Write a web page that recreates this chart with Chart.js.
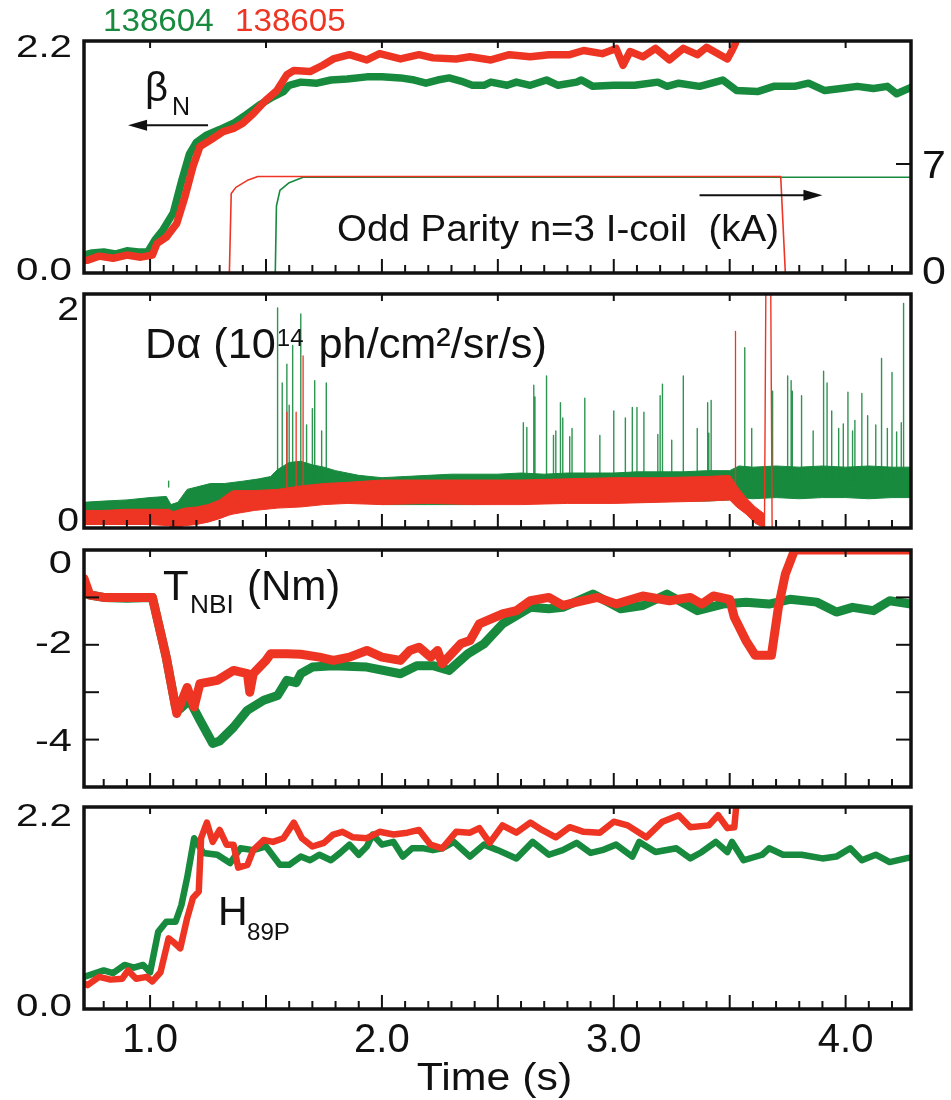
<!DOCTYPE html>
<html>
<head>
<meta charset="utf-8">
<script src="https://cdn.jsdelivr.net/npm/chart.js@4.4.1/dist/chart.umd.min.js"></script>
<style>
  body { margin: 0; background: #fff; width: 951px; height: 1100px; position: relative; overflow: hidden; }
  canvas { position: absolute; left: 0; top: 0; }
</style>
</head>
<body>
<canvas id="p1" width="951" height="1100"></canvas>
<canvas id="p2" width="951" height="1100"></canvas>
<canvas id="p3" width="951" height="1100"></canvas>
<canvas id="p4" width="951" height="1100"></canvas>
<script>
// shots
const shots = ['138604', '138605'];
const GREEN = '#178a3e', RED = '#ee3524';

// beta_N, [time s, value]
const betaN_138604 = [[0.715,0.17],[0.75,0.19],[0.80,0.20],[0.85,0.18],[0.90,0.21],[0.95,0.20],[0.99,0.20],[1.02,0.31],[1.056,0.41],[1.10,0.57],
  [1.137,0.88],[1.17,1.13],[1.20,1.24],[1.245,1.31],[1.30,1.36],[1.36,1.42],[1.42,1.51],[1.47,1.59],[1.53,1.67],[1.575,1.72],
  [1.60,1.78],[1.65,1.81],[1.72,1.80],[1.78,1.83],[1.85,1.84],[1.935,1.86],[2.0,1.86],[2.08,1.85],[2.14,1.83],[2.19,1.80],
  [2.24,1.83],[2.29,1.85],[2.34,1.82],[2.39,1.78],[2.44,1.78],[2.47,1.81],[2.54,1.78],[2.58,1.81],[2.64,1.78],[2.71,1.83],
  [2.76,1.78],[2.84,1.81],[2.86,1.83],[2.91,1.77],[3.0,1.78],[3.09,1.78],[3.19,1.81],[3.23,1.77],[3.28,1.80],[3.37,1.77],
  [3.47,1.83],[3.53,1.73],[3.62,1.72],[3.69,1.77],[3.78,1.77],[3.84,1.80],[3.91,1.73],[3.98,1.75],[4.05,1.77],[4.12,1.75],
  [4.18,1.77],[4.22,1.70],[4.282,1.76]];
const betaN_138605 = [[0.715,0.12],[0.73,0.12],[0.78,0.16],[0.84,0.14],[0.90,0.17],[0.96,0.15],[1.01,0.17],[1.03,0.28],[1.07,0.34],[1.115,0.47],
  [1.15,0.72],[1.185,1.01],[1.215,1.20],[1.26,1.26],[1.315,1.34],[1.36,1.37],[1.40,1.42],[1.445,1.51],[1.50,1.64],[1.547,1.73],
  [1.59,1.88],[1.62,1.92],[1.69,1.91],[1.745,1.97],[1.79,2.03],[1.86,2.07],[1.935,2.02],[1.99,2.08],[2.08,2.03],[2.16,2.07],
  [2.22,2.04],[2.32,2.03],[2.38,2.05],[2.47,2.02],[2.55,2.07],[2.64,2.05],[2.72,2.07],[2.81,2.07],[2.87,2.11],[2.95,2.08],
  [3.01,2.13],[3.04,1.97],[3.07,2.10],[3.125,2.05],[3.18,2.13],[3.24,2.02],[3.30,2.13],[3.36,2.07],[3.40,2.14],[3.44,2.09],
  [3.49,2.03],[3.51,2.11],[3.525,2.18],[3.53,2.4]];

// odd parity n=3 I-coil current (kA)
const coil_138604 = [[0.715,0],[1.54,0],[1.545,4.3],[1.56,5.3],[1.60,5.8],[1.66,6.15],[4.282,6.15]];
const coil_138605 = [[0.715,0],[1.342,0],[1.35,5.1],[1.37,5.5],[1.42,5.95],[1.465,6.2],[3.72,6.2],[3.74,0],[4.282,0]];

// D-alpha band envelopes [time, low, high] (1e14 ph/cm2/sr/s)
const dalpha_138604 = [[0.715,0.10,0.22],[0.8,0.10,0.23],[0.9,0.10,0.24],[1.0,0.12,0.26],[1.07,0.12,0.27],[1.09,0.05,0.20],[1.12,0.08,0.22],
  [1.16,0.12,0.33],[1.2,0.15,0.35],[1.26,0.18,0.38],[1.32,0.20,0.38],[1.4,0.20,0.40],[1.47,0.20,0.42],[1.52,0.20,0.44],[1.55,0.22,0.50],
  [1.6,0.24,0.56],[1.65,0.24,0.57],[1.7,0.24,0.54],[1.75,0.22,0.52],[1.8,0.22,0.49],[1.9,0.22,0.45],[2.0,0.20,0.43],[2.1,0.20,0.44],
  [2.2,0.20,0.45],[2.3,0.20,0.46],[2.4,0.20,0.46],[2.5,0.21,0.46],[2.6,0.21,0.47],[2.7,0.21,0.46],[2.8,0.22,0.47],[2.9,0.22,0.47],
  [3.0,0.22,0.47],[3.1,0.22,0.48],[3.2,0.23,0.48],[3.3,0.23,0.48],[3.4,0.23,0.49],[3.5,0.24,0.49],[3.54,0.26,0.53],[3.6,0.25,0.52],
  [3.7,0.26,0.53],[3.8,0.25,0.52],[3.9,0.26,0.53],[4.0,0.26,0.52],[4.1,0.25,0.53],[4.2,0.26,0.52],[4.282,0.26,0.52]];
const dalpha_138605 = [[0.715,0.03,0.15],[0.8,0.03,0.15],[0.9,0.03,0.16],[1.0,0.03,0.16],[1.08,0.02,0.16],[1.1,0.0,0.14],[1.15,0.02,0.17],
  [1.2,0.03,0.18],[1.25,0.05,0.20],[1.3,0.08,0.24],[1.34,0.11,0.30],[1.36,0.12,0.32],[1.45,0.15,0.32],[1.55,0.17,0.33],[1.65,0.18,0.36],
  [1.75,0.20,0.38],[1.85,0.21,0.39],[2.0,0.20,0.41],[2.2,0.21,0.41],[2.4,0.20,0.41],[2.6,0.20,0.41],[2.8,0.21,0.42],[3.0,0.21,0.43],
  [3.2,0.22,0.43],[3.4,0.23,0.44],[3.5,0.24,0.45],[3.53,0.18,0.36],[3.57,0.12,0.26],[3.61,0.04,0.18],[3.65,0.0,0.12]];
// D-alpha ELM spikes [time, peak]
const elm_138604 = [[1.08,0.35],[1.55,1.88],[1.57,1.24],[1.59,1.40],[1.60,1.05],[1.615,1.56],[1.65,1.83],[1.675,0.88],[1.70,1.02],[1.71,1.26],
  [1.74,0.83],[1.76,1.24],[2.61,0.90],[2.625,0.86],[2.655,1.22],[2.66,1.12],[2.71,1.30],[2.74,0.79],[2.75,0.83],[2.77,1.07],
  [2.78,0.94],[2.81,0.78],[2.82,0.85],[2.875,1.11],[2.94,0.79],[3.0,1.00],[3.05,0.94],[3.08,1.03],[3.10,1.03],[3.13,0.99],
  [3.19,0.80],[3.20,1.13],[3.21,1.23],[3.25,0.75],[3.30,1.30],[3.36,0.85],[3.405,1.07],[3.41,0.81],[3.42,1.09],[3.565,1.54],
  [3.595,0.85],[3.685,1.17],[3.75,1.30],[3.765,1.26],[3.77,1.17],[3.81,1.13],[3.86,0.83],[3.905,1.34],[3.92,1.24],[3.94,1.00],
  [3.97,0.85],[3.99,0.89],[4.01,1.16],[4.03,0.83],[4.04,0.92],[4.07,1.15],[4.095,0.96],[4.13,0.88],[4.155,1.45],[4.18,0.85],
  [4.20,1.33],[4.22,0.82],[4.24,0.90],[4.25,1.92]];
const elm_138605 = [[1.59,0.99],[1.63,0.99],[1.66,1.47],[3.525,1.68]];
const dalphaBurst_138605 = [[3.65,0.0],[3.657,2.4],[3.676,2.4],[3.683,0.0],[3.69,0.0]];

// neutral beam torque T_NBI (Nm)
const torque_138604 = [[0.715,-0.75],[0.74,-0.95],[0.80,-1.0],[0.90,-1.02],[1.0,-1.0],[1.01,-1.0],[1.07,-2.27],[1.11,-3.31],[1.13,-3.35],[1.17,-3.17],
  [1.215,-3.59],[1.27,-4.08],[1.30,-4.03],[1.36,-3.74],[1.42,-3.38],[1.49,-3.17],[1.55,-3.07],[1.59,-2.75],[1.63,-2.8],[1.65,-2.61],
  [1.70,-2.47],[1.79,-2.44],[1.935,-2.47],[2.08,-2.61],[2.15,-2.44],[2.22,-2.44],[2.29,-2.54],[2.37,-2.19],[2.44,-1.98],[2.52,-1.56],
  [2.64,-1.21],[2.72,-1.24],[2.78,-1.21],[2.91,-0.93],[3.03,-1.24],[3.125,-1.17],[3.23,-0.93],[3.36,-1.28],[3.47,-1.14],[3.57,-1.1],
  [3.67,-1.14],[3.76,-1.04],[3.875,-1.1],[3.96,-1.31],[4.03,-1.21],[4.12,-1.28],[4.19,-1.07],[4.282,-1.14]];
const torque_138605 = [[0.715,-0.6],[0.74,-0.95],[0.80,-1.0],[0.90,-1.0],[1.0,-1.0],[1.01,-1.0],[1.07,-2.27],[1.115,-3.45],[1.16,-2.9],[1.19,-3.31],
  [1.215,-2.82],[1.29,-2.75],[1.36,-2.54],[1.42,-2.61],[1.43,-3.0],[1.445,-2.61],[1.50,-2.33],[1.52,-2.19],[1.59,-2.19],[1.65,-2.2],
  [1.73,-2.26],[1.79,-2.33],[1.86,-2.26],[1.935,-2.12],[2.0,-2.26],[2.08,-2.33],[2.12,-2.12],[2.16,-2.05],[2.21,-2.26],[2.24,-2.12],
  [2.26,-2.4],[2.34,-1.98],[2.38,-1.91],[2.42,-1.56],[2.52,-1.35],[2.58,-1.28],[2.64,-1.07],[2.72,-1.0],[2.78,-1.17],[2.84,-1.1],
  [2.93,-1.0],[3.01,-1.14],[3.125,-0.97],[3.24,-1.07],[3.33,-1.0],[3.38,-1.14],[3.43,-0.97],[3.50,-1.04],[3.52,-1.42],[3.57,-1.91],
  [3.61,-2.22],[3.68,-2.22],[3.71,-1.21],[3.74,-0.51],[3.78,0.0],[4.282,0.0]];

// confinement factor H89P
const h89_138604 = [[0.715,0.35],[0.80,0.42],[0.84,0.39],[0.89,0.48],[0.93,0.45],[0.97,0.48],[1.0,0.40],[1.035,0.84],[1.07,0.95],[1.11,0.95],
  [1.135,1.13],[1.16,1.43],[1.19,1.86],[1.23,1.70],[1.29,1.68],[1.345,1.59],[1.39,1.75],[1.445,1.73],[1.50,1.77],[1.56,1.57],
  [1.60,1.57],[1.65,1.66],[1.69,1.62],[1.73,1.68],[1.78,1.62],[1.82,1.70],[1.86,1.79],[1.90,1.68],[1.935,1.77],[1.96,1.90],
  [2.0,1.79],[2.05,1.82],[2.09,1.66],[2.13,1.75],[2.18,1.75],[2.22,1.73],[2.26,1.75],[2.31,1.82],[2.38,1.66],[2.44,1.79],
  [2.50,1.73],[2.58,1.64],[2.65,1.82],[2.72,1.68],[2.78,1.73],[2.84,1.81],[2.90,1.70],[2.95,1.73],[3.01,1.79],[3.08,1.66],
  [3.11,1.82],[3.18,1.71],[3.27,1.75],[3.33,1.64],[3.38,1.71],[3.44,1.82],[3.49,1.71],[3.51,1.82],[3.56,1.62],[3.64,1.68],
  [3.67,1.75],[3.73,1.68],[3.81,1.68],[3.90,1.64],[3.96,1.66],[4.02,1.75],[4.07,1.62],[4.13,1.68],[4.19,1.60],[4.26,1.64],[4.282,1.65]];
const h89_138605 = [[0.715,0.28],[0.73,0.26],[0.78,0.35],[0.83,0.32],[0.88,0.33],[0.905,0.42],[0.94,0.33],[0.985,0.35],[1.01,0.30],[1.045,0.40],
  [1.08,0.77],[1.10,0.73],[1.13,0.66],[1.16,0.99],[1.185,1.21],[1.21,1.28],[1.22,1.86],[1.245,2.03],[1.27,1.82],[1.30,1.95],
  [1.33,1.79],[1.36,1.79],[1.38,1.54],[1.42,1.57],[1.445,1.73],[1.49,1.84],[1.53,1.82],[1.575,1.86],[1.62,2.03],[1.655,1.86],
  [1.70,1.77],[1.75,1.81],[1.79,1.90],[1.83,1.93],[1.875,1.87],[1.935,1.86],[1.99,1.93],[2.05,1.90],[2.11,1.92],[2.16,1.95],
  [2.21,1.79],[2.26,1.75],[2.32,1.93],[2.38,1.92],[2.42,1.97],[2.465,1.81],[2.52,2.00],[2.58,1.92],[2.64,2.03],[2.69,1.95],
  [2.75,1.87],[2.81,1.98],[2.87,1.93],[2.94,1.92],[3.00,2.04],[3.06,2.00],[3.14,1.87],[3.21,2.04],[3.28,2.11],[3.33,1.98],
  [3.41,2.00],[3.45,2.11],[3.49,1.97],[3.52,1.98],[3.535,2.4]];

// axis ticks and labels
const timeRange = [0.715, 4.282];
const timeTicks = [1, 2, 3, 4], timeTickText = ['1.0', '2.0', '3.0', '4.0'];
const betaTicks = [0, 2.2], betaTickText = ['0.0', '2.2'];
const coilTicks = [0, 7], coilTickText = ['0', '7'];
const daTicks = [0, 2], daTickText = ['0', '2'];
const torqueTicks = [0, -1, -2, -3, -4], torqueTickText = ['0', '', '-2', '', '-4'];
const hTicks = [0, 2.2], hTickText = ['0.0', '2.2'];

const FONT = '"Liberation Sans", Arial, Helvetica, sans-serif';

function pts(arr, k) { return arr.map(p => ({ x: p[0], y: p[k || 1] })); }
function spikes(arr, base) {
  return arr.flatMap(p => [{ x: p[0], y: base }, { x: p[0], y: p[1] }, { x: p[0], y: null }]);
}
function trace(data, color, width, order, axis) {
  return { data, borderColor: color, borderWidth: width, order, yAxisID: axis || 'y',
    pointRadius: 0, tension: 0, fill: false, borderJoinStyle: 'round', borderCapStyle: 'round' };
}
function band(arr, color, order) {
  return [
    Object.assign(trace(pts(arr, 2), color, 1, order), { fill: '+1', backgroundColor: color, borderJoinStyle: 'miter' }),
    Object.assign(trace(pts(arr, 1), color, 1, order), { borderJoinStyle: 'miter' })
  ];
}

function txt(ctx, s, x, y, size, align, sx, color) {
  ctx.save();
  ctx.font = size + 'px ' + FONT;
  ctx.fillStyle = color || '#111';
  ctx.textBaseline = 'alphabetic';
  const w = ctx.measureText(s).width * sx;
  const x0 = align === 'right' ? x - w : align === 'center' ? x - w / 2 : x;
  ctx.translate(x0, y);
  ctx.scale(sx, 1);
  ctx.fillText(s, 0, 0);
  ctx.restore();
  return w;
}
function arrow(ctx, x0, y0, x1, y1) {
  const dir = Math.sign(x1 - x0);
  ctx.save();
  ctx.strokeStyle = '#111'; ctx.fillStyle = '#111'; ctx.lineWidth = 2;
  ctx.beginPath(); ctx.moveTo(x0, y0); ctx.lineTo(x1 - dir * 12, y1); ctx.stroke();
  ctx.beginPath(); ctx.moveTo(x1, y1); ctx.lineTo(x1 - dir * 19, y1 - 5.5); ctx.lineTo(x1 - dir * 19, y1 + 5.5); ctx.closePath(); ctx.fill();
  ctx.restore();
}

// frame, inward ticks, tick labels and panel notes
const framePlugin = {
  id: 'frame',
  afterDatasetsDraw(chart, args, o) {
    const { ctx, chartArea: a, scales } = chart;
    const xs = scales.x;
    ctx.save();
    ctx.strokeStyle = '#111';
    ctx.lineWidth = 2;
    const seg = (x0, y0, x1, y1) => { ctx.beginPath(); ctx.moveTo(x0, y0); ctx.lineTo(x1, y1); ctx.stroke(); };
    for (let i = Math.ceil(timeRange[0] * 10); i <= Math.floor(timeRange[1] * 10); i++) {
      const px = xs.getPixelForValue(i / 10);
      const major = i % 5 === 0;
      seg(px, a.bottom, px, a.bottom - (major ? 14 : 8));
      if (major) seg(px, a.top, px, a.top + 7);
    }
    (o.yTicks || []).forEach(t => {
      const py = scales[t.axis].getPixelForValue(t.value);
      if (t.left) seg(a.left, py, a.left + 15, py);
      if (t.right) seg(a.right, py, a.right - 15, py);
    });
    ctx.lineWidth = 3.5;
    ctx.strokeRect(a.left, a.top, a.width, a.height);
    ctx.restore();

    (o.labels || []).forEach(L => {
      const sc = scales[L.axis];
      L.values.forEach((v, i) => {
        if (!L.text[i]) return;
        const cy = sc.getPixelForValue(v) + (L.nudge[i] || 0);
        const bx = L.side === 'left' ? a.left - L.gap : a.right + L.gap;
        txt(ctx, L.text[i], bx, cy + 0.36 * L.size, L.size, L.side === 'left' ? 'right' : 'left', L.sx);
      });
    });
    if (o.timeLabels) {
      timeTicks.forEach((v, i) => txt(ctx, timeTickText[i], xs.getPixelForValue(v), a.bottom + 43, 40, 'center', 1.0));
      txt(ctx, 'Time (s)', (a.left + a.right) / 2 - 3, a.bottom + 81, 39, 'center', 1.1);
    }
    if (o.notes) o.notes(ctx, scales);
  }
};

function panel(id, top, bottom, datasets, yScales, frame) {
  const scales = { x: { type: 'linear', display: false, min: timeRange[0], max: timeRange[1] } };
  Object.keys(yScales).forEach(k => { scales[k] = Object.assign({ type: 'linear', display: false }, yScales[k]); });
  return new Chart(document.getElementById(id), {
    type: 'line',
    data: { datasets },
    options: {
      responsive: false, animation: false, devicePixelRatio: 1,
      layout: { padding: { left: 84, right: 40, top, bottom: 1100 - bottom } },
      scales,
      plugins: { legend: { display: false }, tooltip: { enabled: false }, frame }
    },
    plugins: [framePlugin]
  });
}

// panel 1: beta_N and I-coil
panel('p1', 41, 273, [
  trace(pts(betaN_138605), RED, 7.5, 0),
  trace(pts(betaN_138604), GREEN, 7.5, 1),
  trace(pts(coil_138605), RED, 1.6, 2, 'y2'),
  trace(pts(coil_138604), GREEN, 1.6, 3, 'y2')
], { y: { min: 0, max: 2.2 }, y2: { min: 0, max: 14.9 } }, {
  yTicks: [{ axis: 'y2', value: 7, right: true }],
  labels: [
    { axis: 'y', values: betaTicks, text: betaTickText, side: 'left', gap: 12, size: 31, sx: 1.3, nudge: [-4, 5] },
    { axis: 'y2', values: coilTicks, text: coilTickText, side: 'right', gap: 11, size: 39, sx: 1.1, nudge: [-3, 0] }
  ],
  notes(ctx, s) {
    txt(ctx, shots[0], 103, 31, 31, 'left', 1.07, GREEN);
    txt(ctx, shots[1], 235, 31, 31, 'left', 1.07, RED);
    txt(ctx, 'β', 145, 101, 40, 'left', 1.0);
    txt(ctx, 'N', 172, 115, 25, 'left', 1.0);
    arrow(ctx, s.x.getPixelForValue(1.25), s.y.getPixelForValue(1.4), s.x.getPixelForValue(0.905), s.y.getPixelForValue(1.4));
    txt(ctx, 'Odd Parity n=3 I-coil  (kA)', 337, 241, 36, 'left', 1.07);
    arrow(ctx, s.x.getPixelForValue(3.37), s.y2.getPixelForValue(5.0), s.x.getPixelForValue(3.90), s.y2.getPixelForValue(5.0));
  }
});

// panel 2: D-alpha
panel('p2', 294, 528, [
  trace(pts(dalphaBurst_138605), RED, 1.4, 0),
  trace(spikes(elm_138605, 0.3), RED, 1.3, 0),
  ...band(dalpha_138605, RED, 1),
  trace(spikes(elm_138604, 0.4), 'rgba(23,138,62,0.9)', 1.4, 2),
  ...band(dalpha_138604, GREEN, 3)
], { y: { min: 0, max: 2 } }, {
  labels: [{ axis: 'y', values: daTicks, text: daTickText, side: 'left', gap: 5, size: 34, sx: 1.15, nudge: [-9, 14] }],
  notes(ctx) {
    let x = 145;
    x += txt(ctx, 'Dα (10', x, 358, 42, 'left', 1.03);
    x += txt(ctx, '14', x + 1, 346, 24, 'left', 1.0) + 4;
    txt(ctx, ' ph/cm²/sr/s)', x, 358, 42, 'left', 1.03);
  }
});

// panel 3: torque
panel('p3', 550, 787, [
  trace(pts(torque_138605), RED, 9, 0),
  trace(pts(torque_138604), GREEN, 9, 1)
], { y: { min: -5, max: 0 } }, {
  yTicks: torqueTicks.filter(v => v !== 0).map(v => ({ axis: 'y', value: v, left: true, right: true })),
  labels: [{ axis: 'y', values: torqueTicks, text: torqueTickText, side: 'left', gap: 12, size: 32, sx: 1.3, nudge: [11, 0, -3, 0, 0] }],
  notes(ctx) {
    txt(ctx, 'T', 163, 600, 42, 'left', 1.0);
    txt(ctx, 'NBI', 190, 613, 25, 'left', 1.05);
    txt(ctx, '(Nm)', 247, 600, 42, 'left', 1.0);
  }
});

// panel 4: H89P
panel('p4', 807, 1009, [
  trace(pts(h89_138605), RED, 6.5, 0),
  trace(pts(h89_138604), GREEN, 6.5, 1)
], { y: { min: 0, max: 2.2 } }, {
  timeLabels: true,
  labels: [{ axis: 'y', values: hTicks, text: hTickText, side: 'left', gap: 12, size: 31, sx: 1.3, nudge: [-4.5, 8] }],
  notes(ctx) {
    txt(ctx, 'H', 218, 925, 41, 'left', 1.0);
    txt(ctx, '89P', 247, 940, 23, 'left', 1.05);
  }
});
</script>
</body>
</html>
